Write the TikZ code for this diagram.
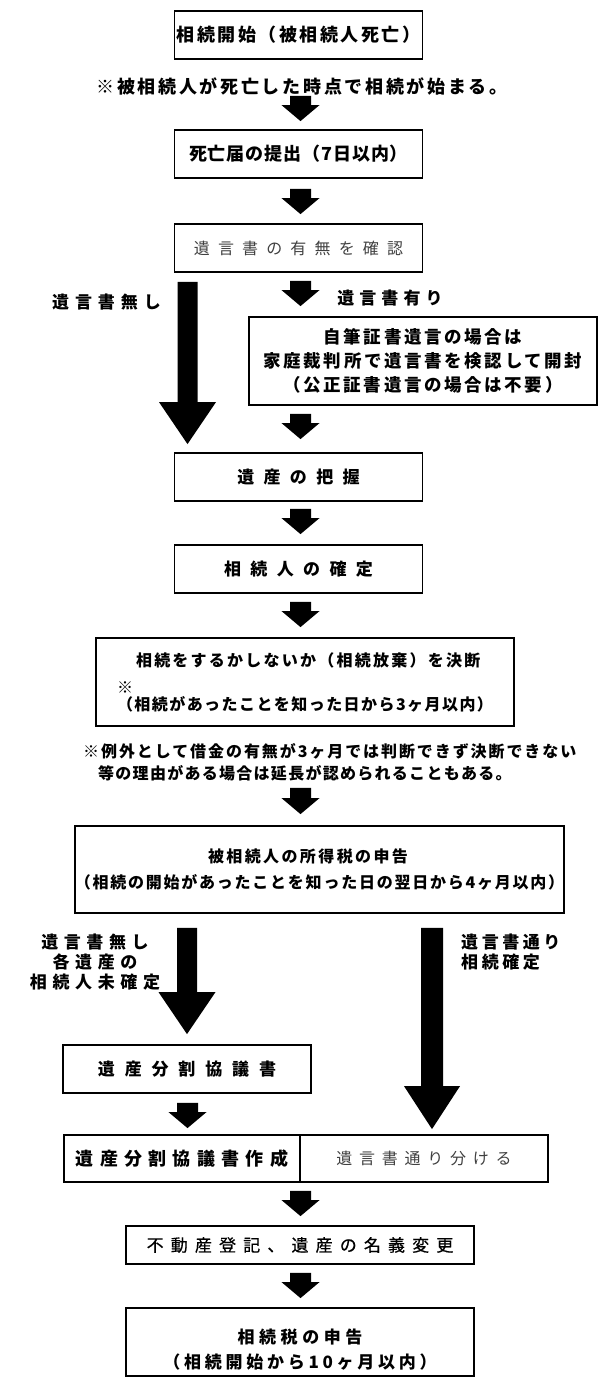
\documentclass[tikz,border=0pt]{standalone}
\usepackage{fontspec}
\setmainfont{Noto Sans CJK JP}
\usetikzlibrary{calc}
\newcommand\myls[2]{{\addfontfeatures{LetterSpace=#1}#2}}
\newcommand\myfs[2]{\fontsize{#1pt}{#2pt}\selectfont}
% block arrow: #1 top point, #2 tip point, #3 shaft half width, #4 head half width, #5 head length
\newcommand\blockarrow[5]{%
  \fill let \p1=(#1), \p2=(#2) in
    (\x1-#3,\y1) -- (\x1+#3,\y1) -- (\x1+#3,\y2+#5) -- (\x1+#4,\y2+#5)
    -- (\x1,\y2) -- (\x1-#4,\y2+#5) -- (\x1-#3,\y2+#5) -- cycle;}
\newcommand\smallarrow[2]{\blockarrow{#1}{#2}{10.5pt}{19pt}{16pt}}
\tikzset{
  box/.style={draw, line width=1.8pt, inner sep=0pt, align=center},
  txt/.style={inner sep=0pt},
  soft/.style={text=black!75},
}
\begin{document}
\begin{tikzpicture}[x=1pt,y=1pt]
\fill[white] (0,0) rectangle (600,-1400);
\useasboundingbox (0,0) rectangle (600,-1400);

\node[box, minimum width=248pt, minimum height=48pt, font={\bfseries\myfs{18}{22}}] (b1) at (298.5,-35) {\myls{14}{相続開始（被相続人死亡）}};
\node[txt, font={\bfseries\myfs{18}{22}}] (n1) at (302,-87) {\myls{15}{※被相続人が死亡した時点で相続が始まる。}};
\node[box, minimum width=248pt, minimum height=48pt, font={\bfseries\myfs{18}{22}}] (b2) at (298.5,-154) {\myls{5}{死亡届の提出（7日以内）}};
\node[box, soft, minimum width=248pt, minimum height=48pt, font={\myfs{16}{20}}] (b3) at (298.5,-248) {\myls{51}{遺言書の有無を確認}};

\node[txt, font={\bfseries\myfs{17}{20}}] (lno) at (106.5,-302) {\myls{35}{遺言書無し}};
\node[txt, font={\bfseries\myfs{17}{20}}] (lyes) at (390,-298) {\myls{30}{遺言書有り}};

\node[box, minimum width=348pt, minimum height=88pt, font={\bfseries\myfs{17.5}{24}}] (b4) at (423,-361)
  {\myls{15}{自筆証書遺言の場合は}\\\myls{15}{家庭裁判所で遺言書を検認して開封}\\\myls{15}{（公正証書遺言の場合は不要）}};

\node[box, minimum width=248pt, minimum height=48pt, font={\bfseries\myfs{17}{20}}] (b5) at (298.5,-477) {\myls{55}{遺産の把握}};
\node[box, minimum width=248pt, minimum height=48pt, font={\bfseries\myfs{17}{20}}] (b6) at (298.5,-569) {\myls{55}{相続人の確定}};

\node[box, align=left, minimum width=418pt, minimum height=88pt, font={\bfseries\myfs{16}{17}}] (b7) at (305,-682)
  {\hspace*{19pt}\myls{14}{相続をするかしないか（相続放棄）を決断}\\[10pt]※\\\myls{9}{（相続があったことを知った日から3ヶ月以内）}};

\node[txt, align=left, anchor=west, font={\bfseries\myfs{16}{22}}] (n2) at (83,-762)
  {\myls{12}{※例外として借金の有無が3ヶ月では判断できず決断できない}\\\hspace*{15pt}\myls{8}{等の理由がある場合は延長が認められることもある。}};

\node[box, minimum width=477pt, minimum height=87pt, font={\bfseries\myfs{16}{26}}] (b8) at (319.5,-869.5)
  {\myls{15}{被相続人の所得税の申告}\hspace*{23pt}\\\myls{11}{（相続の開始があったことを知った日の翌日から4ヶ月以内）}};

\node[txt, align=center, font={\bfseries\myfs{17}{20}}] (lab1) at (95,-962)
  {\myls{33}{遺言書無し}\\\myls{33}{各遺産の}\\\myls{33}{相続人未確定}};
\node[txt, align=left, anchor=west, font={\bfseries\myfs{17}{20}}] (lab2) at (461,-952)
  {\myls{21}{遺言書通り}\\\myls{21}{相続確定}};

\node[box, minimum width=248pt, minimum height=48pt, font={\bfseries\myfs{17}{20}}] (b9) at (187,-1069) {\myls{58}{遺産分割協議書}};

\node[box, minimum width=236pt, minimum height=47pt, font={\bfseries\myfs{18}{20}}] (b10a) at (182,-1158.5) {\myls{35}{遺産分割協議書作成}};
\node[box, soft, minimum width=248pt, minimum height=47pt, font={\myfs{16}{20}}] (b10b) at (424,-1158.5) {\myls{42}{遺言書通り分ける}};

\node[box, minimum width=348pt, minimum height=38pt, font={\myfs{17}{20}\addfontfeatures{FakeBold=0.6}}] (b11) at (300,-1245) {\myls{42}{不動産登記、遺産の名義変更}};
\node[box, minimum width=348pt, minimum height=68pt, font={\bfseries\myfs{17}{25}}] (b12) at (300,-1342)
  {\rule{0pt}{30pt}\myls{27}{相続税の申告}\\\myls{22}{（相続開始から10ヶ月以内）}};

% connectors
\smallarrow{$(b1.south)+(2,-36)$}{$(b2.north)+(2,8)$}
\smallarrow{$(b2.south)+(2,-10)$}{$(b3.north)+(2,9)$}
\smallarrow{$(b3.south)+(2,-8)$}{$(b4.north)+(0,10)$}
\blockarrow{$(b3.south)+(-111,-9)$}{$(b5.north)+(0,8)$}{10pt}{28.5pt}{42pt}
\smallarrow{$(b4.south -| b5.north)+(2,-8)$}{$(b5.north)+(2,13)$}
\smallarrow{$(b5.south)+(2,-7)$}{$(b6.north)+(2,10)$}
\smallarrow{$(b6.south)+(2,-8)$}{$(b7.north)+(2,10)$}
\smallarrow{$(b7.south)+(-4.5,-61)$}{$(b8.north)+(0,11)$}
\blockarrow{$(b8.south -| b9.north)+(0,-14)$}{$(b9.north)+(0,10)$}{10pt}{28.5pt}{42pt}
\blockarrow{$(b8.south)+(112.5,-14)$}{$(b10b.north)+(0,5)$}{11pt}{28pt}{43pt}
\smallarrow{$(b9.south)+(0.5,-9)$}{$(b10a.north)+(0,6)$}
\smallarrow{$(b10a.south -| b11.north)+(0.5,-8)$}{$(b11.north)+(0,9)$}
\smallarrow{$(b11.south)+(0.5,-8)$}{$(b12.north)+(0,9)$}
\end{tikzpicture}
\end{document}
